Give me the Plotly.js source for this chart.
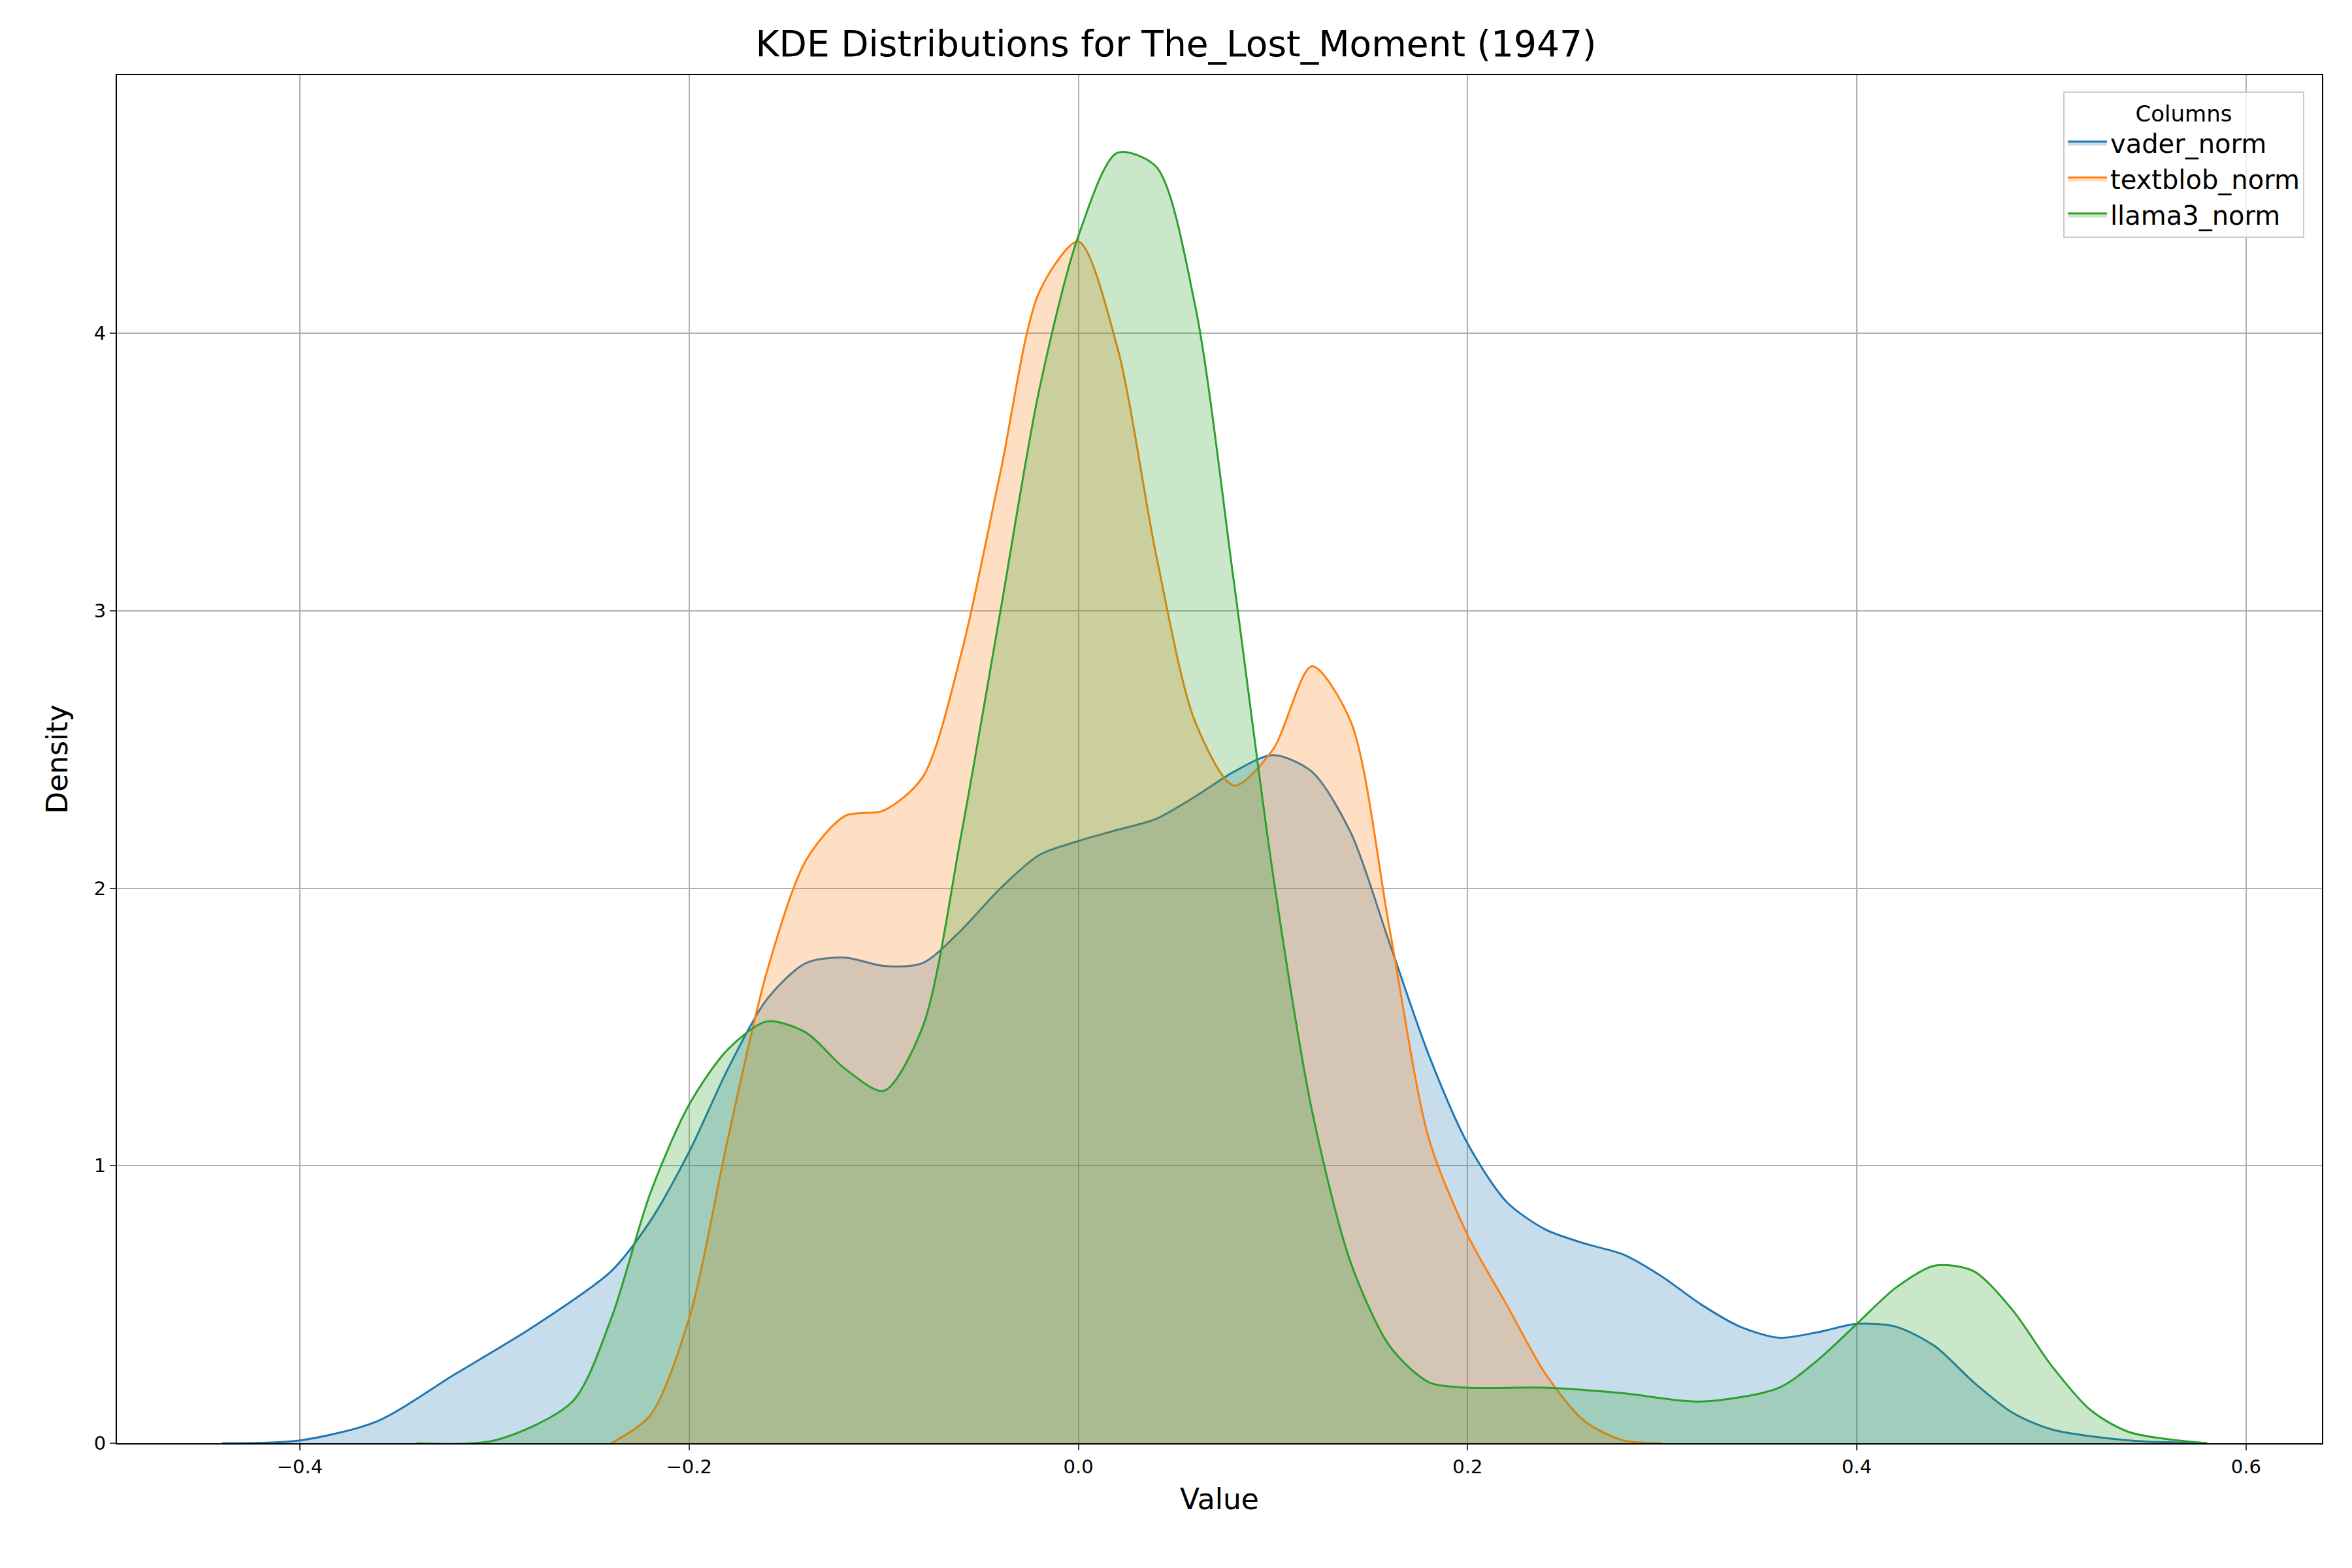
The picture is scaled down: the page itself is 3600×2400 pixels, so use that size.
<!DOCTYPE html>
<html><head><meta charset="utf-8">
<script src="https://cdn.plot.ly/plotly-3.0.1.min.js"></script>
<style>html,body{margin:0;padding:0;background:#fff}</style>
</head><body><div id="chart" style="width:3600px;height:2400px"></div>
<script>
const vaderX = [-0.44,-0.4,-0.36,-0.32,-0.28,-0.24,-0.22,-0.2,-0.18,-0.16,-0.14,-0.12,-0.1,-0.08,-0.06,-0.04,-0.02,0,0.02,0.04,0.06,0.08,0.1,0.12,0.14,0.16,0.18,0.2,0.22,0.24,0.26,0.28,0.3,0.32,0.34,0.36,0.38,0.4,0.42,0.44,0.46,0.48,0.5,0.54,0.58];
const vaderY = [0,0.01,0.08,0.25,0.42,0.62,0.8,1.05,1.35,1.6,1.73,1.75,1.72,1.73,1.85,2.0,2.12,2.17,2.21,2.25,2.33,2.42,2.48,2.42,2.2,1.8,1.4,1.08,0.87,0.77,0.72,0.68,0.6,0.5,0.42,0.38,0.4,0.43,0.42,0.35,0.22,0.11,0.05,0.01,0];
const textblobX = [-0.24,-0.22,-0.2,-0.18,-0.16,-0.14,-0.12,-0.1,-0.08,-0.06,-0.04,-0.02,0,0.02,0.04,0.06,0.08,0.1,0.12,0.14,0.16,0.18,0.2,0.22,0.24,0.26,0.28,0.3];
const textblobY = [0,0.1,0.45,1.1,1.7,2.1,2.26,2.28,2.4,2.85,3.5,4.15,4.33,3.95,3.2,2.6,2.37,2.5,2.8,2.6,1.85,1.1,0.75,0.5,0.25,0.08,0.01,0];
const llamaX = [-0.34,-0.3,-0.26,-0.24,-0.22,-0.2,-0.18,-0.16,-0.14,-0.12,-0.1,-0.08,-0.06,-0.04,-0.02,0,0.02,0.04,0.06,0.08,0.1,0.12,0.14,0.16,0.18,0.2,0.24,0.28,0.32,0.36,0.38,0.4,0.42,0.44,0.46,0.48,0.5,0.52,0.54,0.58];
const llamaY = [0,0.01,0.15,0.45,0.9,1.22,1.42,1.52,1.48,1.35,1.27,1.5,2.2,3.0,3.8,4.35,4.65,4.6,4.1,3.1,2.05,1.2,0.65,0.35,0.22,0.2,0.2,0.18,0.15,0.2,0.3,0.43,0.56,0.64,0.62,0.48,0.28,0.12,0.04,0];

function tr(name, x, y, c, f) {
  return {x: x, y: y, name: name, type: 'scatter', mode: 'lines', fill: 'tozeroy',
    fillcolor: f, line: {color: c, width: 3, shape: 'spline', smoothing: 0.8}};
}
const data = [
  tr('vader_norm', vaderX, vaderY, '#1f77b4', 'rgba(31,119,180,0.25)'),
  tr('textblob_norm', textblobX, textblobY, '#ff7f0e', 'rgba(255,127,14,0.25)'),
  tr('llama3_norm', llamaX, llamaY, '#2ca02c', 'rgba(44,160,44,0.25)')
];
const ax = {showline: true, mirror: true, linecolor: '#000', linewidth: 2, ticks: 'outside',
  ticklen: 9, tickwidth: 2, showgrid: true, gridcolor: '#b0b0b0', gridwidth: 2, zeroline: false,
  tickfont: {size: 29}};
const layout = {
  width: 3600, height: 2400, paper_bgcolor: '#fff', plot_bgcolor: '#fff',
  font: {family: 'DejaVu Sans', color: '#000'},
  margin: {l: 179, r: 46, t: 115, b: 191},
  title: {text: 'KDE Distributions for The_Lost_Moment (1947)', font: {size: 55}, x: 0.5, y: 0.972, yanchor: 'middle'},
  xaxis: Object.assign({}, ax, {range: [-0.494, 0.639], tickvals: [-0.4,-0.2,0,0.2,0.4,0.6],
    ticktext: ['−0.4','−0.2','0.0','0.2','0.4','0.6'], title: {text: 'Value', font: {size: 44}, standoff: 18}}),
  yaxis: Object.assign({}, ax, {range: [0, 4.93], tickvals: [0,1,2,3,4],
    title: {text: 'Density', font: {size: 44}, standoff: 26}}),
  showlegend: true,
  legend: {x: 0.992, y: 0.988, xanchor: 'right', yanchor: 'top', bgcolor: 'rgba(255,255,255,0.8)',
    bordercolor: '#ccc', borderwidth: 2, font: {size: 40}, itemwidth: 60, tracegroupgap: 6,
    title: {text: 'Columns', font: {size: 34}, side: 'top center'}}
};
Plotly.newPlot('chart', data, layout, {displayModeBar: false});
</script></body></html>
